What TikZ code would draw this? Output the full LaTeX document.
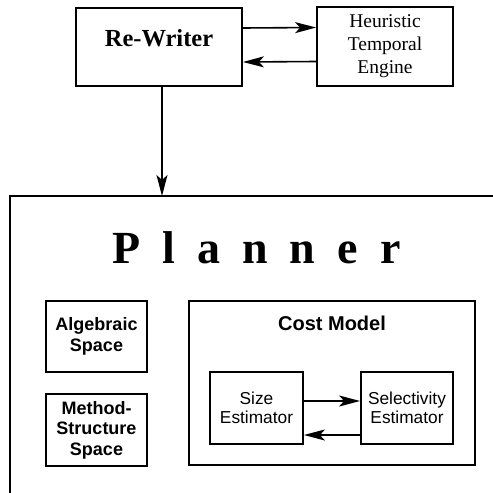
\documentclass[tikz,border=0pt]{standalone}
\usepackage{fontspec}
\setmainfont{Liberation Serif}
\setsansfont{Liberation Sans}
\usetikzlibrary{arrows.meta}
\tikzset{
  box/.style={draw, line width=1.8pt, inner sep=0pt, align=center},
  frame/.style={line width=1.3pt},
  arr/.style={line width=1.6pt, -{Stealth[length=21pt,width=11pt,inset=5pt]}},
  serifsm/.style={font=\fontsize{19.5}{23}\selectfont},
  sansb/.style={font=\sffamily\bfseries\fontsize{18}{20.5}\selectfont},
  sansr/.style={font=\sffamily\fontsize{17.3}{19.5}\selectfont},
}
\begin{document}
\begin{tikzpicture}[x=1pt, y=-1pt]
  \useasboundingbox (0,0) rectangle (493,493);

  % top row
  \node[box, minimum width=166pt, minimum height=78pt] (rw) at (159,47) {};
  \node[font=\bfseries\fontsize{24.5}{28}\selectfont, anchor=base, inner sep=0pt]
    (rwtext) at (159,46) {Re-Writer};
  \node[box, serifsm, minimum width=136pt, minimum height=79pt] (hte) at (385,46.5)
    {Heuristic\\Temporal\\Engine};
  \draw[arr] ([yshift=19pt]rw.east) -- ([yshift=19pt]hte.west);
  \draw[arr] ([yshift=-15pt]hte.west) -- ([yshift=-15pt]rw.west -| rw.east);

  % planner frame, open towards the right and the bottom
  \coordinate (ptop) at (162,196);
  \draw[frame] (493,196) -- (10,196) -- (10,493);
  \draw[arr] (rw.south -| ptop) -- (ptop);
  \node[font=\bfseries\fontsize{46}{50}\selectfont\addfontfeature{LetterSpace=48},
        anchor=base west, inner sep=0pt] (ptitle) at (112,263) {Planner};

  % planner contents
  \node[box, sansb, minimum width=101pt, minimum height=71pt] (alg) at (96.5,336.5)
    {Algebraic\\Space};
  \node[box, sansb, minimum width=101pt, minimum height=72pt] (mss) at (96.5,430)
    {Method-\\Structure\\Space};
  \node[box, minimum width=286pt, minimum height=164pt] (cm) at (332,383) {};
  \node[font=\sffamily\bfseries\fontsize{20}{23}\selectfont, anchor=base, inner sep=0pt]
    (cmtext) at (332,330) {Cost Model};
  \node[box, sansr, minimum width=93pt, minimum height=72pt] (se) at (256.5,408)
    {Size\\Estimator};
  \node[box, sansr, minimum width=92pt, minimum height=72pt] (sel) at (407,408)
    {Selectivity\\Estimator};
  \draw[arr] ([yshift=7pt]se.east) -- ([yshift=7pt]sel.west);
  \draw[arr] ([yshift=-27pt]sel.west) -- ([yshift=-27pt]se.east);
\end{tikzpicture}
\end{document}
